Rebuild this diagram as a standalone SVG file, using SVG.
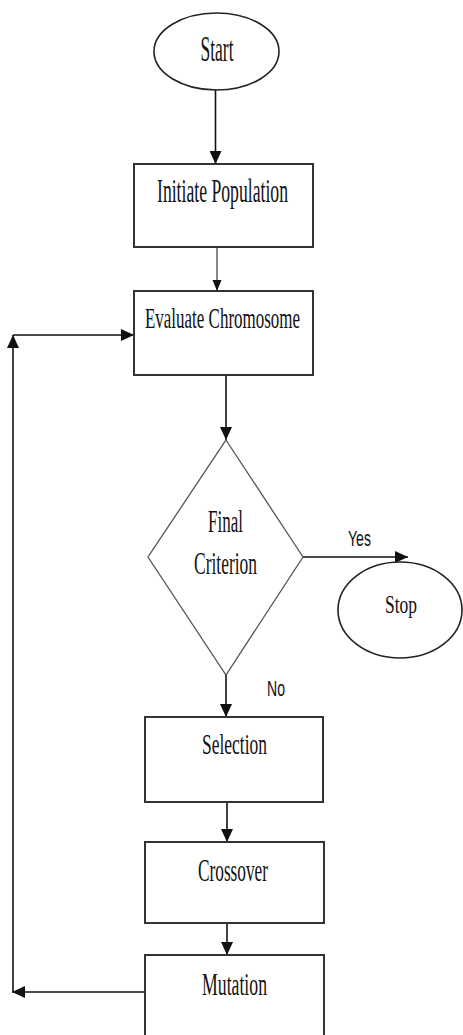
<svg xmlns="http://www.w3.org/2000/svg" width="463" height="1035" viewBox="0 0 463 1035">
<defs>
<style>
.box{fill:#fff;stroke:#333;stroke-width:2}
.ell{fill:#fff;stroke:#222;stroke-width:1.6}
.dia{fill:#fff;stroke:#555;stroke-width:1.3}
.t{font-family:"Liberation Serif","Times New Roman",serif;fill:#111;text-anchor:middle}
.s{font-family:"Liberation Sans Narrow","Liberation Sans",Arial,sans-serif;fill:#111;text-anchor:middle}
.c{fill:none;stroke:#111;stroke-width:1.6}
.thin{fill:none;stroke:#111;stroke-width:1}
</style>
<marker id="ah" markerUnits="userSpaceOnUse" markerWidth="14" markerHeight="12" viewBox="0 0 14 12" refX="13" refY="6" orient="auto">
<path d="M0,0 L13,6 L0,12 Z" fill="#111"/>
</marker>
<marker id="ahs" markerUnits="userSpaceOnUse" markerWidth="12" markerHeight="10" viewBox="0 0 12 10" refX="11" refY="5" orient="auto">
<path d="M0,0.5 L11,5 L0,9.5 Z" fill="#111"/>
</marker>
</defs>
<rect width="463" height="1035" fill="#fff"/>
<g id="connectors">
<path class="c" d="M215.5,90 V164" marker-end="url(#ah)"/>
<path class="thin" d="M217,247 V291" marker-end="url(#ahs)"/>
<path class="c" d="M226,375 V440" marker-end="url(#ah)"/>
<path class="c" d="M303,557 H408" marker-end="url(#ah)"/>
<path class="c" d="M226,675 V717" marker-end="url(#ah)"/>
<path class="c" d="M227,802 V842" marker-end="url(#ah)"/>
<path class="c" d="M227,923 V955" marker-end="url(#ah)"/>
<path class="c" d="M145,992 H12" marker-end="url(#ah)"/>
<path class="c" d="M13,992 V335" marker-end="url(#ah)"/>
<path class="c" d="M13,335 H134" marker-end="url(#ah)"/>
<text class="s" x="359.5" y="546" font-size="22" textLength="23" lengthAdjust="spacingAndGlyphs">Yes</text>
<text class="s" x="276" y="696" font-size="22" textLength="18" lengthAdjust="spacingAndGlyphs">No</text>
</g>
<g id="start">
<ellipse class="ell" cx="216.5" cy="51.5" rx="62.5" ry="38.5"/>
<text class="t" x="217" y="61" font-size="36" textLength="33" lengthAdjust="spacingAndGlyphs">Start</text>
</g>
<g id="initiate">
<rect class="box" x="134" y="164" width="179" height="83"/>
<text class="t" x="222.5" y="202" font-size="33" textLength="131" lengthAdjust="spacingAndGlyphs">Initiate Population</text>
</g>
<g id="evaluate">
<rect class="box" x="134" y="291" width="179" height="84"/>
<text class="t" x="222.5" y="328" font-size="30" textLength="155" lengthAdjust="spacingAndGlyphs">Evaluate Chromosome</text>
</g>
<g id="criterion">
<polygon class="dia" points="226,440 303,557 226,675 148,557"/>
<text class="t" x="225.5" y="532" font-size="32" textLength="35" lengthAdjust="spacingAndGlyphs">Final</text>
<text class="t" x="225.5" y="574" font-size="32" textLength="63" lengthAdjust="spacingAndGlyphs">Criterion</text>
</g>
<g id="stop">
<ellipse class="ell" cx="400" cy="610" rx="62" ry="48"/>
<text class="t" x="401" y="613" font-size="25" textLength="32" lengthAdjust="spacingAndGlyphs">Stop</text>
</g>
<g id="selection">
<rect class="box" x="145" y="717" width="178" height="85"/>
<text class="t" x="234.5" y="754" font-size="30" textLength="65" lengthAdjust="spacingAndGlyphs">Selection</text>
</g>
<g id="crossover">
<rect class="box" x="145" y="842" width="179" height="81"/>
<text class="t" x="233" y="881" font-size="31" textLength="70" lengthAdjust="spacingAndGlyphs">Crossover</text>
</g>
<g id="mutation">
<rect class="box" x="145" y="955" width="179" height="90"/>
<text class="t" x="234.5" y="995" font-size="32" textLength="65" lengthAdjust="spacingAndGlyphs">Mutation</text>
</g>
</svg>
